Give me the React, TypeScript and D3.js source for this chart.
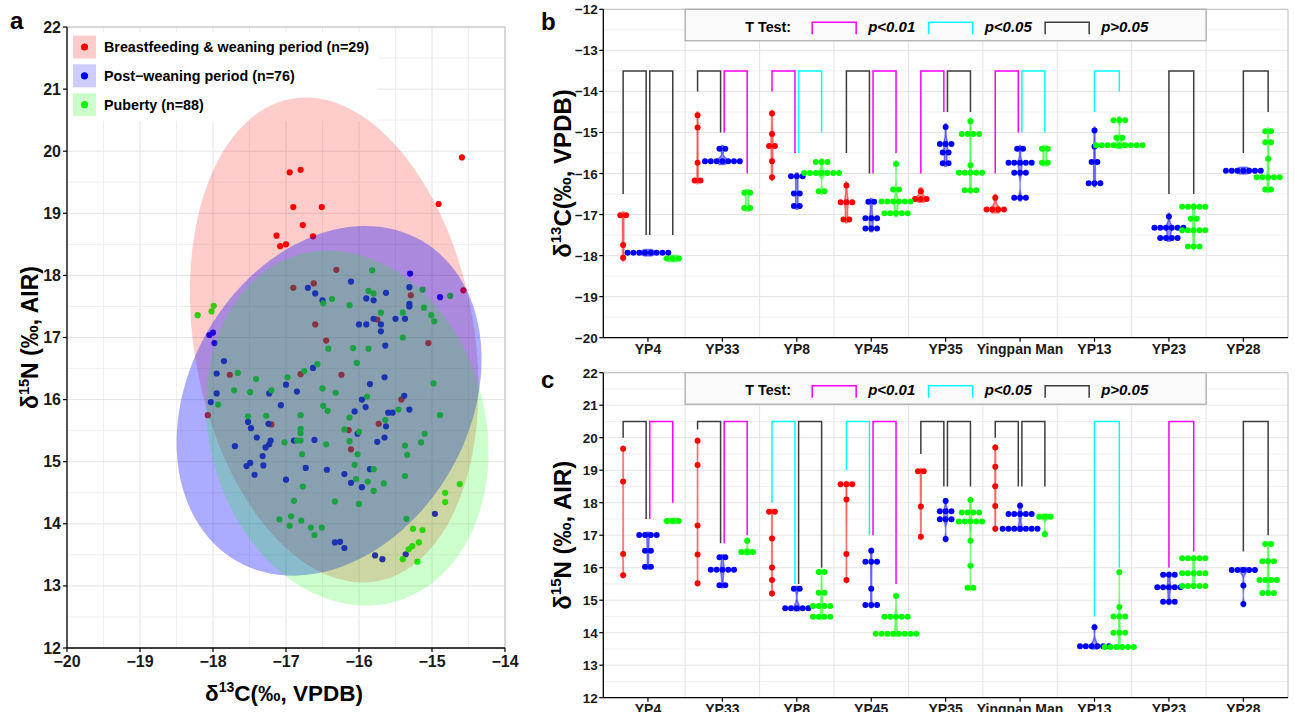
import React from "react";
import * as d3 from "d3";

const FONT = "'Liberation Sans', Arial, Helvetica, sans-serif";

// ---------------- Panel a data ----------------
const groupLabels = [
  "Breastfeeding & weaning period (n=29)",
  "Post\u2212weaning period (n=76)",
  "Puberty (n=88)",
];
const groupColors = ["#FF0000", "#0000FF", "#00FF00"];

// [d13C, d15N]
const breastfeedingPts = [
  [-16.95, 19.66], [-16.8, 19.7], [-16.9, 19.1], [-16.51, 19.1], [-16.77, 18.81], [-17.13, 18.64],
  [-16.63, 18.63], [-17.08, 18.47], [-17.0, 18.5], [-14.59, 19.9], [-14.91, 19.15], [-14.57, 17.76],
  [-16.9, 17.8], [-16.62, 17.87], [-16.6, 17.21], [-16.45, 16.95], [-16.31, 18.09], [-15.29, 17.68],
  [-15.05, 16.91], [-15.75, 17.29], [-17.77, 16.4], [-16.8, 16.41], [-18.07, 15.75], [-17.2, 15.6],
  [-16.24, 16.4], [-15.42, 16.0], [-16.14, 15.51], [-15.73, 15.61], [-16.11, 15.2],
];
const postWeaningPts = [
  [-16.7, 17.8], [-16.6, 17.71], [-16.5, 17.6], [-18.0, 17.08], [-18.05, 17.04], [-17.98, 16.91],
  [-16.11, 17.9], [-15.3, 18.03], [-15.31, 17.81], [-15.63, 17.72], [-14.89, 17.65], [-15.9, 17.63],
  [-15.8, 17.6], [-15.31, 17.54], [-15.31, 17.5], [-15.8, 17.3], [-16.0, 17.21], [-15.9, 17.21],
  [-15.7, 17.21], [-15.7, 17.1], [-15.5, 17.3], [-15.37, 17.3], [-15.64, 16.87],
  [-17.85, 16.62], [-17.95, 16.42], [-16.63, 16.51], [-17.0, 16.24], [-16.85, 16.13], [-17.23, 16.1],
  [-17.95, 16.1], [-18.03, 15.96], [-17.07, 15.91], [-17.52, 15.64], [-17.48, 15.54], [-17.24, 15.61],
  [-17.4, 15.39], [-17.21, 15.34], [-17.23, 15.28], [-17.28, 15.23], [-17.7, 15.25], [-16.89, 15.34],
  [-16.61, 15.35], [-17.32, 15.09], [-17.31, 14.94], [-17.49, 14.98], [-17.54, 14.93], [-17.43, 14.79],
  [-16.73, 14.9], [-17.0, 14.71], [-16.44, 14.87],
  [-15.65, 16.36], [-15.85, 16.25], [-15.96, 16.0], [-15.38, 16.06], [-15.91, 15.88], [-16.06, 15.81],
  [-15.6, 15.79], [-15.54, 15.79], [-15.31, 15.84], [-15.63, 15.57], [-16.02, 15.45], [-15.65, 15.39],
  [-15.75, 15.32], [-15.85, 14.88], [-16.2, 14.8], [-16.11, 14.66], [-15.96, 14.59], [-14.96, 14.16],
  [-16.33, 13.7], [-16.26, 13.71], [-16.2, 13.61], [-15.78, 13.49], [-15.68, 13.43], [-15.36, 13.51],
];
const pubertyPts = [
  [-17.99, 17.51], [-18.02, 17.42], [-18.21, 17.36], [-16.49, 17.55],
  [-15.82, 18.08], [-15.87, 17.75], [-15.8, 17.71], [-15.13, 17.77], [-14.75, 17.67], [-16.37, 17.62],
  [-16.13, 17.52], [-15.7, 17.4], [-15.4, 17.4], [-15.11, 17.48], [-15.01, 17.36], [-14.97, 17.26],
  [-15.4, 17.0], [-16.08, 16.83], [-15.87, 16.82], [-16.42, 16.82],
  [-17.66, 16.43], [-17.41, 16.33], [-16.98, 16.36], [-16.75, 16.46], [-16.57, 16.57], [-17.71, 16.15],
  [-17.49, 16.12], [-17.2, 16.15], [-16.5, 16.18], [-17.93, 15.92], [-16.49, 15.9], [-16.43, 15.82],
  [-17.52, 15.73], [-17.27, 15.74], [-16.8, 15.75], [-16.8, 15.53], [-16.8, 15.46], [-16.85, 15.34],
  [-16.8, 15.34], [-17.02, 15.31], [-16.45, 15.28], [-16.78, 15.12], [-16.77, 14.6], [-16.89, 14.37],
  [-17.09, 14.07], [-16.93, 14.12], [-16.95, 13.97], [-16.79, 14.05], [-16.66, 13.94], [-16.51, 13.94],
  [-16.61, 13.82],
  [-16.03, 16.59], [-14.98, 16.26], [-16.32, 16.11], [-15.89, 16.05], [-16.13, 15.71], [-15.64, 15.67],
  [-15.46, 15.84], [-14.89, 15.75], [-16.2, 15.52], [-16.0, 15.48], [-15.1, 15.45], [-15.15, 15.31],
  [-16.13, 15.33], [-15.37, 15.26], [-15.34, 15.11], [-16.02, 15.12], [-16.06, 14.95], [-15.8, 14.88],
  [-16.04, 14.72], [-15.88, 14.68], [-15.8, 14.53], [-15.66, 14.65], [-15.37, 14.77], [-16.33, 14.36],
  [-16.0, 14.32], [-15.35, 14.08],
  [-14.62, 14.64], [-14.82, 14.5], [-14.82, 14.35], [-15.26, 13.92], [-15.13, 13.9], [-15.18, 13.7],
  [-15.27, 13.64], [-15.32, 13.59], [-15.4, 13.43], [-15.2, 13.39],
];
const scatterGroups = [breastfeedingPts, postWeaningPts, pubertyPts];

// ellipse: centre, axis vectors (data units)
const ellipseCenter = [[-16.34, 16.96], [-16.41, 15.98], [-16.16, 15.54]];
const ellipseAxisU = [[-0.582, 3.886], [1.267, 2.58], [-0.638, 2.8]];
const ellipseAxisV = [[-1.889, -0.391], [-1.661, 1.127], [-1.826, -0.575]];
const ellipseAlpha = [0.2, 0.33, 0.2];

const scatterXTicks = [-20, -19, -18, -17, -16, -15, -14];
const scatterYTicks = [12, 13, 14, 15, 16, 17, 18, 19, 20, 21, 22];

// ---------------- Panels b, c data ----------------
const categories = ["YP4", "YP33", "YP8", "YP45", "YP35", "Yingpan Man", "YP13", "YP23", "YP28"];

const carbonBreast = [
  [-17.02, -17.02, -17.74, -18.05],
  [-14.58, -14.88, -15.74, -16.17, -16.17],
  [-14.54, -15.04, -15.33, -15.33, -15.7, -16.09],
  [-16.29, -16.7, -16.7, -16.7, -17.12, -17.12],
  [-16.43, -16.62, -16.62, -16.62],
  [-16.59, -16.88, -16.88, -16.88, -16.88],
  [], [], [],
];
const carbonPost = [
  [-17.93, -17.93, -17.93, -17.93, -17.93, -17.93, -17.93, -17.93],
  [-15.4, -15.4, -15.7, -15.7, -15.7, -15.7, -15.7, -15.7, -15.7],
  [-16.07, -16.07, -16.07, -16.49, -16.49, -16.79, -16.79],
  [-16.69, -16.69, -17.09, -17.09, -17.09, -17.34, -17.34, -17.34],
  [-14.87, -15.28, -15.28, -15.28, -15.49, -15.49, -15.75, -15.75],
  [-15.4, -15.4, -15.74, -15.74, -15.74, -15.74, -15.74, -15.98, -15.98, -15.98, -16.59, -16.59, -16.59],
  [-14.95, -15.34, -15.72, -15.72, -16.24, -16.24, -16.24],
  [-17.05, -17.32, -17.32, -17.32, -17.32, -17.32, -17.32, -17.57, -17.57, -17.57, -17.57],
  [-15.93, -15.93, -15.93, -15.93, -15.93, -15.93, -15.93],
];
const carbonPuberty = [
  [-18.07, -18.07, -18.07],
  [-16.47, -16.47, -16.84, -16.84],
  [-15.72, -15.72, -15.72, -15.99, -15.99, -15.99, -15.99, -15.99, -15.99, -15.99, -16.43, -16.43],
  [-15.77, -16.39, -16.39, -16.68, -16.68, -16.68, -16.68, -16.68, -16.68, -16.97, -16.97, -16.97, -16.97, -16.97],
  [-14.73, -15.04, -15.04, -15.04, -15.04, -15.8, -15.98, -15.98, -15.98, -15.98, -15.98, -16.41, -16.41, -16.41],
  [-15.4, -15.4, -15.74, -15.74],
  [-14.7, -14.7, -14.7, -15.13, -15.13, -15.31, -15.31, -15.31, -15.31, -15.31, -15.31, -15.31, -15.31, -15.31],
  [-16.81, -16.81, -16.81, -16.81, -16.81, -17.1, -17.1, -17.38, -17.38, -17.38, -17.38, -17.38, -17.78, -17.78, -17.78],
  [-14.97, -14.97, -15.24, -15.24, -15.64, -16.09, -16.09, -16.09, -16.09, -16.09, -16.39, -16.39],
];

const nitrogenBreast = [
  [19.66, 18.65, 16.42, 15.77],
  [19.91, 19.16, 17.3, 16.41, 15.52],
  [17.72, 17.72, 16.9, 16.01, 15.62, 15.21],
  [18.57, 18.57, 18.57, 18.1, 16.42, 15.62],
  [18.97, 18.97, 17.88, 16.95],
  [19.7, 19.11, 18.51, 17.9, 17.2],
  [], [], [],
];
const nitrogenPost = [
  [17.01, 17.01, 17.01, 17.01, 16.52, 16.52, 16.03, 16.03],
  [16.32, 16.32, 15.94, 15.94, 15.94, 15.94, 15.94, 15.46, 15.46],
  [15.35, 15.35, 14.75, 14.75, 14.75, 14.75, 14.75],
  [16.52, 16.18, 16.18, 16.18, 15.35, 14.85, 14.85, 14.85],
  [18.05, 17.74, 17.74, 17.74, 17.49, 17.49, 17.49, 16.88],
  [17.91, 17.65, 17.65, 17.65, 17.65, 17.65, 17.2, 17.2, 17.2, 17.2, 17.2, 17.2, 17.2],
  [14.17, 13.58, 13.58, 13.58, 13.58, 13.58, 13.58],
  [15.78, 15.78, 15.78, 15.4, 15.4, 15.4, 15.4, 15.4, 14.95, 14.95, 14.95],
  [15.93, 15.93, 15.93, 15.93, 15.93, 15.45, 14.88],
];
const nitrogenPuberty = [
  [17.44, 17.44, 17.44],
  [16.83, 16.48, 16.48, 16.48],
  [15.87, 15.87, 15.23, 15.23, 14.82, 14.82, 14.82, 14.82, 14.49, 14.49, 14.49, 14.49],
  [15.13, 14.49, 14.49, 14.49, 14.49, 14.49, 13.97, 13.97, 13.97, 13.97, 13.97, 13.97, 13.97, 13.97],
  [18.08, 17.7, 17.7, 17.7, 17.7, 17.42, 17.42, 17.42, 17.42, 17.42, 16.83, 16.06, 15.38, 15.38],
  [17.57, 17.57, 17.57, 17.03],
  [15.86, 14.79, 14.5, 14.5, 14.5, 14.0, 14.0, 14.0, 13.56, 13.56, 13.56, 13.56, 13.56, 13.56],
  [16.29, 16.29, 16.29, 16.29, 16.29, 15.83, 15.83, 15.83, 15.83, 15.83, 15.44, 15.44, 15.44, 15.44, 15.44],
  [16.73, 16.73, 16.2, 16.2, 16.2, 15.62, 15.62, 15.62, 15.62, 15.22, 15.22, 15.22],
];

// T tests: [category, fromGroup, toGroup, significance, leftLegEnd, rightLegEnd]
const carbonTests = [
  ["YP4", 0, 1, "ns", -16.5, -17.5], ["YP4", 1, 2, "ns", -17.5, -17.5],
  ["YP33", 0, 1, "ns", -14.0, -15.0], ["YP33", 1, 2, "p01", -15.0, -16.0],
  ["YP8", 0, 1, "p01", -14.0, -15.5], ["YP8", 1, 2, "p05", -15.5, -15.0],
  ["YP45", 0, 1, "ns", -15.5, -16.0], ["YP45", 1, 2, "p01", -16.0, -15.5],
  ["YP35", 0, 1, "p01", -16.0, -14.5], ["YP35", 1, 2, "ns", -14.5, -14.5],
  ["Yingpan Man", 0, 1, "p01", -16.0, -15.0], ["Yingpan Man", 1, 2, "p05", -15.0, -15.0],
  ["YP13", 1, 2, "p05", -14.5, -14.0],
  ["YP23", 1, 2, "ns", -16.5, -16.5],
  ["YP28", 1, 2, "ns", -15.5, -14.5],
];
const carbonBracketTop = -13.5;
const nitrogenTests = [
  ["YP4", 0, 1, "ns", 20.0, 17.5], ["YP4", 1, 2, "p01", 17.5, 18.0],
  ["YP33", 0, 1, "ns", 20.25, 16.75], ["YP33", 1, 2, "p01", 16.75, 17.0],
  ["YP8", 0, 1, "p05", 18.0, 15.5], ["YP8", 1, 2, "ns", 15.5, 16.0],
  ["YP45", 0, 1, "p05", 19.0, 17.0], ["YP45", 1, 2, "p01", 17.0, 15.5],
  ["YP35", 0, 1, "ns", 19.5, 18.5], ["YP35", 1, 2, "ns", 18.5, 18.5],
  ["Yingpan Man", 0, 1, "ns", 20.0, 18.5], ["Yingpan Man", 1, 2, "ns", 18.5, 18.5],
  ["YP13", 1, 2, "p05", 14.5, 16.0],
  ["YP23", 1, 2, "p01", 16.0, 16.5],
  ["YP28", 1, 2, "ns", 16.5, 17.0],
];
const nitrogenBracketTop = 20.5;

const carbonTicks = [-20, -19, -18, -17, -16, -15, -14, -13, -12];
const nitrogenTicks = [12, 13, 14, 15, 16, 17, 18, 19, 20, 21, 22];

const sigColor = { p01: "#FF00FF", p05: "#00FFFF", ns: "#3d3d3d" };
const legendItems = [["p01", "p<0.01"], ["p05", "p<0.05"], ["ns", "p>0.05"]];

const fmt = (v) => (v < 0 ? "\u2212" + Math.abs(v) : String(v));

// ---------------- helpers ----------------
function bandwidth(v) {
  const n = v.length;
  const sd = n > 1 ? d3.deviation(v) : 0;
  if (!sd) return 0.06;
  const s = v.slice().sort(d3.ascending);
  const iqr = d3.quantile(s, 0.75) - d3.quantile(s, 0.25);
  let lo = Math.min(sd, iqr / 1.34);
  if (!(lo > 0)) lo = sd;
  return Math.max(0.06, 0.9 * lo * Math.pow(n, -0.2));
}
function density(v, bw, y) {
  return d3.mean(v, (x) => Math.exp(-0.5 * ((y - x) / bw) ** 2) / (bw * Math.sqrt(2 * Math.PI)));
}

function ScatterPanel() {
  const x = d3.scaleLinear().domain([-20, -14]).range([67, 505]);
  const y = d3.scaleLinear().domain([12, 22]).range([648, 27]);
  const [x0, x1] = x.range();
  const [y0, y1] = y.range();
  const gridX = d3.range(-20, -13.99, 0.5);
  const gridY = d3.range(12, 22.01, 0.5);
  const line = d3.line().curve(d3.curveLinearClosed);
  const ellipses = ellipseCenter.map((c, i) => {
    const u = ellipseAxisU[i], v = ellipseAxisV[i];
    const pts = d3.range(0, 120).map((k) => {
      const t = (k / 120) * Math.PI * 2;
      return [x(c[0] + Math.cos(t) * u[0] + Math.sin(t) * v[0]), y(c[1] + Math.cos(t) * u[1] + Math.sin(t) * v[1])];
    });
    return line(pts);
  });
  return (
    <g>
      {gridX.map((g, i) => (
        <line key={"gx" + i} x1={x(g)} x2={x(g)} y1={y0} y2={y1} stroke={i % 2 ? "#efefef" : "#e4e4e4"} strokeWidth={1} />
      ))}
      {gridY.map((g, i) => (
        <line key={"gy" + i} x1={x0} x2={x1} y1={y(g)} y2={y(g)} stroke={i % 2 ? "#efefef" : "#e4e4e4"} strokeWidth={1} />
      ))}
      {/* legend background (under the ellipses) */}
      <rect x={68} y={32} width={310} height={89} fill="#fff" />
      {scatterGroups.map((pts, gi) =>
        pts.map((p, i) => <circle key={gi + "-" + i} cx={x(p[0])} cy={y(p[1])} r={3.1} fill={groupColors[gi]} />)
      )}
      {ellipses.map((d, i) => (
        <path key={"e" + i} d={d} fill={groupColors[i]} fillOpacity={ellipseAlpha[i]} stroke="none" />
      ))}
      <line x1={x0} x2={x1} y1={y1} y2={y1} stroke="#bdbdbd" strokeWidth={1} />
      <line x1={x1} x2={x1} y1={y0} y2={y1} stroke="#bdbdbd" strokeWidth={1} />
      <line x1={x0} x2={x0} y1={y0} y2={y1} stroke="#000" strokeWidth={1.3} />
      <line x1={x0} x2={x1} y1={y0} y2={y0} stroke="#000" strokeWidth={1.3} />
      {scatterXTicks.map((t) => (
        <g key={"xt" + t}>
          <line x1={x(t)} x2={x(t)} y1={y0} y2={y0 + 4} stroke="#000" strokeWidth={1.2} />
          <text x={x(t)} y={y0 + 19} textAnchor="middle" fontSize={16} fontWeight="bold" fontFamily={FONT} fill="#1a1a1a">{fmt(t)}</text>
        </g>
      ))}
      {scatterYTicks.map((t) => (
        <g key={"yt" + t}>
          <line x1={x0 - 4} x2={x0} y1={y(t)} y2={y(t)} stroke="#000" strokeWidth={1.2} />
          <text x={x0 - 6} y={y(t) + 5.5} textAnchor="end" fontSize={16} fontWeight="bold" fontFamily={FONT} fill="#1a1a1a">{fmt(t)}</text>
        </g>
      ))}
      {/* legend keys */}
      {groupLabels.map((lab, i) => {
        const cy = 47 + i * 28.8;
        return (
          <g key={"lg" + i}>
            <rect x={73} y={cy - 11.5} width={23} height={23} fill="#fff" />
            <rect x={73} y={cy - 11.5} width={23} height={23} fill={groupColors[i]} fillOpacity={0.2} />
            <circle cx={84.5} cy={cy} r={3.6} fill={groupColors[i]} />
            <text x={104} y={cy + 5} fontSize={14.3} fontWeight="bold" fontFamily={FONT} fill="#000">{lab}</text>
          </g>
        );
      })}
      <text x={284} y={701} textAnchor="middle" fontSize={22.5} fontWeight="bold" fontFamily={FONT}>
        δ<tspan fontSize={14} dy={-9}>13</tspan><tspan dy={9}>C(‰, VPDB)</tspan>
      </text>
      <g transform={`translate(38,${(y0 + y1) / 2}) rotate(-90)`}>
        <text x={0} y={0} textAnchor="middle" fontSize={23} fontWeight="bold" fontFamily={FONT}>
          δ<tspan fontSize={14.5} dy={-9}>15</tspan><tspan dy={9}>N (‰, AIR)</tspan>
        </text>
      </g>
      <text x={10} y={29} fontSize={24} fontWeight="bold" fontFamily={FONT}>a</text>
    </g>
  );
}

function DotPanel({ yScale, series, tests, bracketTop, ticks, titleIso, titleRest, label, labelY }) {
  const x = d3.scalePoint().domain(categories).range([603.3, 1288]).padding(0.6);
  const step = x.step();
  const gx = (cat, g) => x(cat) + (g - 1) * (step / 3);
  const [y0, y1] = yScale.range();
  const x0 = 603.3, x1 = 1288;
  const dMin = yScale.domain()[0], dMax = yScale.domain()[1];
  const majors = d3.range(dMin, dMax + 0.01, 1);
  const minors = d3.range(dMin + 0.5, dMax, 1);
  const mids = categories.slice(0, -1).map((c) => x(c) + step / 2);

  // violins
  const pad = 0.08;
  const violins = [];
  series.forEach((grp, g) => {
    grp.forEach((vals, ci) => {
      if (!vals.length) return;
      const bw = bandwidth(vals);
      const lo = d3.min(vals) - pad, hi = d3.max(vals) + pad;
      const ys = d3.range(0, 41).map((k) => lo + ((hi - lo) * k) / 40);
      const ds = ys.map((yy) => density(vals, bw, yy));
      violins.push({ g, cat: categories[ci], ys, ds });
    });
  });
  const maxD = d3.max(violins, (v) => d3.max(v.ds));
  const maxHalf = 9;
  const area = d3.area().curve(d3.curveCatmullRom);

  const dotStep = 5.8;
  const dots = [];
  series.forEach((grp, g) => {
    grp.forEach((vals, ci) => {
      const counts = d3.rollups(vals, (v) => v.length, (v) => v);
      counts.forEach(([val, n]) => {
        for (let i = 0; i < n; i++) {
          dots.push({ g, cx: gx(categories[ci], g) + (i - (n - 1) / 2) * dotStep, cy: yScale(val) });
        }
      });
    });
  });

  const boxL = mids[0], boxR = mids[7];
  const boxT = y1, boxB = y1 + 31.5;

  return (
    <g>
      {minors.map((m) => (
        <line key={"mn" + m} x1={x0} x2={x1} y1={yScale(m)} y2={yScale(m)} stroke="#f1f1f1" strokeWidth={1} />
      ))}
      {majors.map((m) => (
        <line key={"mj" + m} x1={x0} x2={x1} y1={yScale(m)} y2={yScale(m)} stroke="#e4e4e4" strokeWidth={1} />
      ))}
      {mids.map((m, i) => (
        <line key={"vm" + i} x1={m} x2={m} y1={y0} y2={y1} stroke="#e4e4e4" strokeWidth={1} />
      ))}
      <line x1={x0} x2={x1} y1={y1} y2={y1} stroke="#bdbdbd" strokeWidth={1} />
      <line x1={x1} x2={x1} y1={y0} y2={y1} stroke="#bdbdbd" strokeWidth={1} />
      {violins.map((v, i) => {
        const cx = gx(v.cat, v.g);
        const pts = v.ys.map((yy, k) => [yScale(yy), (v.ds[k] / maxD) * maxHalf]);
        const d = area.x0((p) => cx - p[1]).x1((p) => cx + p[1]).y((p) => p[0])(pts);
        return (
          <path key={"v" + i} d={d} fill={groupColors[v.g]} fillOpacity={0.42}
            stroke={groupColors[v.g]} strokeOpacity={0.45} strokeWidth={1.5} />
        );
      })}
      {dots.map((d, i) => (
        <circle key={"d" + i} cx={d.cx} cy={d.cy} r={3} fill={groupColors[d.g]} />
      ))}
      {tests.map((t, i) => {
        const [cat, a, b, sig, e1, e2] = t;
        const pair = tests.filter((o) => o[0] === cat).length > 1;
        let xa = gx(cat, a), xb = gx(cat, b);
        if (pair) {
          if (b === 1) xb -= 1.8;
          if (a === 1) xa += 1.8;
        }
        const top = yScale(bracketTop);
        return (
          <path key={"b" + i} d={`M${xa},${yScale(e1)}V${top}H${xb}V${yScale(e2)}`} fill="none"
            stroke={sigColor[sig]} strokeWidth={1.5} />
        );
      })}
      {/* legend box */}
      <rect x={boxL} y={boxT} width={boxR - boxL} height={boxB - boxT} fill="#fafafa" stroke="#a8a8a8" strokeWidth={1.2} />
      <text x={boxL + 83} y={boxT + 22.5} textAnchor="middle" fontSize={14.3} fontWeight="bold" fontFamily={FONT}>T Test:</text>
      {legendItems.map(([sig, lab], i) => {
        const bx = boxL + 127 + i * 116.5;
        return (
          <g key={"li" + i}>
            <path d={`M${bx},${boxT + 25}V${boxT + 13}H${bx + 44}V${boxT + 25}`} fill="none" stroke={sigColor[sig]} strokeWidth={1.5} />
            <text x={bx + 56} y={boxT + 22.5} fontSize={15} fontWeight="bold" fontStyle="italic" fontFamily={FONT}>{lab}</text>
          </g>
        );
      })}
      <line x1={x0} x2={x0} y1={y0} y2={y1} stroke="#000" strokeWidth={1.3} />
      <line x1={x0} x2={x1} y1={y0} y2={y0} stroke="#000" strokeWidth={1.3} />
      {ticks.map((t) => (
        <g key={"t" + t}>
          <line x1={x0 - 4} x2={x0} y1={yScale(t)} y2={yScale(t)} stroke="#000" strokeWidth={1.2} />
          <text x={x0 - 5.5} y={yScale(t) + 5} textAnchor="end" fontSize={13.5} fontWeight="bold" fontFamily={FONT} fill="#1a1a1a">{fmt(t)}</text>
        </g>
      ))}
      {categories.map((c) => (
        <g key={"c" + c}>
          <line x1={x(c)} x2={x(c)} y1={y0} y2={y0 + 4} stroke="#000" strokeWidth={1.2} />
          <text x={x(c)} y={y0 + 16.5} textAnchor="middle" fontSize={14} fontWeight="bold" fontFamily={FONT} fill="#1a1a1a">{c}</text>
        </g>
      ))}
      <g transform={`translate(571,${(y0 + y1) / 2}) rotate(-90)`}>
        <text x={0} y={0} textAnchor="middle" fontSize={24} fontWeight="bold" fontFamily={FONT}>
          δ<tspan fontSize={15} dy={-10}>{titleIso}</tspan><tspan dy={10}>{titleRest}</tspan>
        </text>
      </g>
      <text x={541} y={labelY} fontSize={24} fontWeight="bold" fontFamily={FONT}>{label}</text>
    </g>
  );
}

export default function App() {
  const yB = d3.scaleLinear().domain([-20, -12]).range([337.7, 9.3]);
  const yC = d3.scaleLinear().domain([12, 22]).range([697.7, 372.7]);
  return (
    <svg width={1295} height={712} viewBox="0 0 1295 712"
      style={{ position: "absolute", left: 0, top: 0, background: "#fff", display: "block" }}>
      <rect x={0} y={0} width={1295} height={712} fill="#fff" />
      <ScatterPanel />
      <DotPanel yScale={yB} series={[carbonBreast, carbonPost, carbonPuberty]} tests={carbonTests}
        bracketTop={carbonBracketTop} ticks={carbonTicks} titleIso="13" titleRest="C(‰, VPDB)" label="b" labelY={30} />
      <DotPanel yScale={yC} series={[nitrogenBreast, nitrogenPost, nitrogenPuberty]} tests={nitrogenTests}
        bracketTop={nitrogenBracketTop} ticks={nitrogenTicks} titleIso="15" titleRest="N (‰, AIR)" label="c" labelY={388} />
    </svg>
  );
}
